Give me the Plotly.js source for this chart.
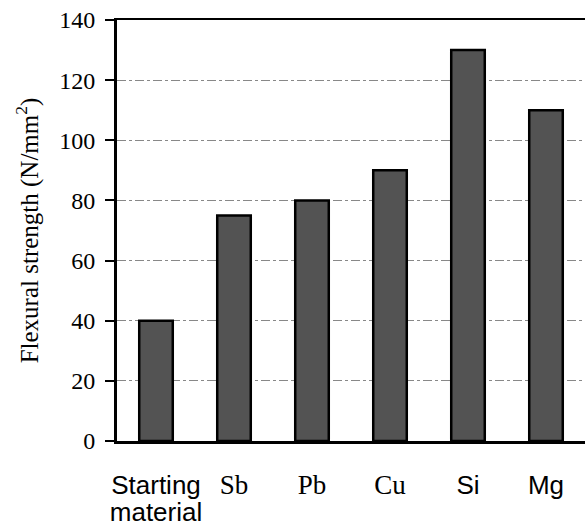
<!DOCTYPE html>
<html>
<head>
<meta charset="utf-8">
<script src="https://cdn.plot.ly/plotly-3.0.1.min.js"></script>
<style>html,body{margin:0;padding:0;background:#fff;}#chart{width:585px;height:527px;}</style>
</head>
<body>
<div id="chart"></div>
<script>
var categories = ["Starting material", "Sb", "Pb", "Cu", "Si", "Mg"];
var strength = [40, 75, 80, 90, 130, 110];
var SANS = 'font-family:Liberation Sans, Arial, sans-serif;font-size:26px';
var SERIF = 'font-family:Liberation Serif, Times New Roman, serif;font-size:27px';
var tickLabels = [
  '<span style="' + SANS + '">Starting</span><br><span style="' + SANS + '">material</span>',
  '<span style="' + SERIF + '">Sb</span>',
  '<span style="' + SERIF + '">Pb</span>',
  '<span style="' + SERIF + '">Cu</span>',
  '<span style="' + SANS + '">Si</span>',
  '<span style="' + SANS + '">Mg</span>'
];
var yTicks = [0, 20, 40, 60, 80, 100, 120, 140];

var trace = {
  type: 'bar',
  x: categories,
  y: strength,
  width: 0.43,
  marker: {color: '#535353', line: {color: '#000', width: 2.5}},
  hoverinfo: 'none'
};

var layout = {
  width: 585, height: 527,
  margin: {l: 117, r: 0, t: 20, b: 86},
  paper_bgcolor: '#fff', plot_bgcolor: '#fff',
  showlegend: false,
  font: {family: 'Liberation Serif, Times New Roman, serif', size: 24, color: '#000'},
  xaxis: {
    type: 'category',
    range: [-0.5, 5.5],
    tickmode: 'array', tickvals: categories, ticktext: tickLabels,
    ticks: '', showgrid: false,
    showline: true, linecolor: '#000', linewidth: 2.5, mirror: true,
    ticklabelstandoff: 25,
    tickfont: {size: 21}
  },
  yaxis: {
    range: [0, 140],
    tickmode: 'array', tickvals: yTicks,
    ticks: 'outside', ticklen: 9, tickwidth: 2, tickcolor: '#000',
    showline: true, linecolor: '#000', linewidth: 3,
    showgrid: true, gridcolor: '#888', gridwidth: 1, griddash: 'dashdot',
    zeroline: false,
    ticklabelstandoff: 5,
    tickfont: {size: 24},
    title: {text: 'Flexural strength (N/mm<sup>2</sup>)', font: {size: 25}, standoff: 14}
  }
};

Plotly.newPlot('chart', [trace], layout, {staticPlot: true, displayModeBar: false});
</script>
</body>
</html>
